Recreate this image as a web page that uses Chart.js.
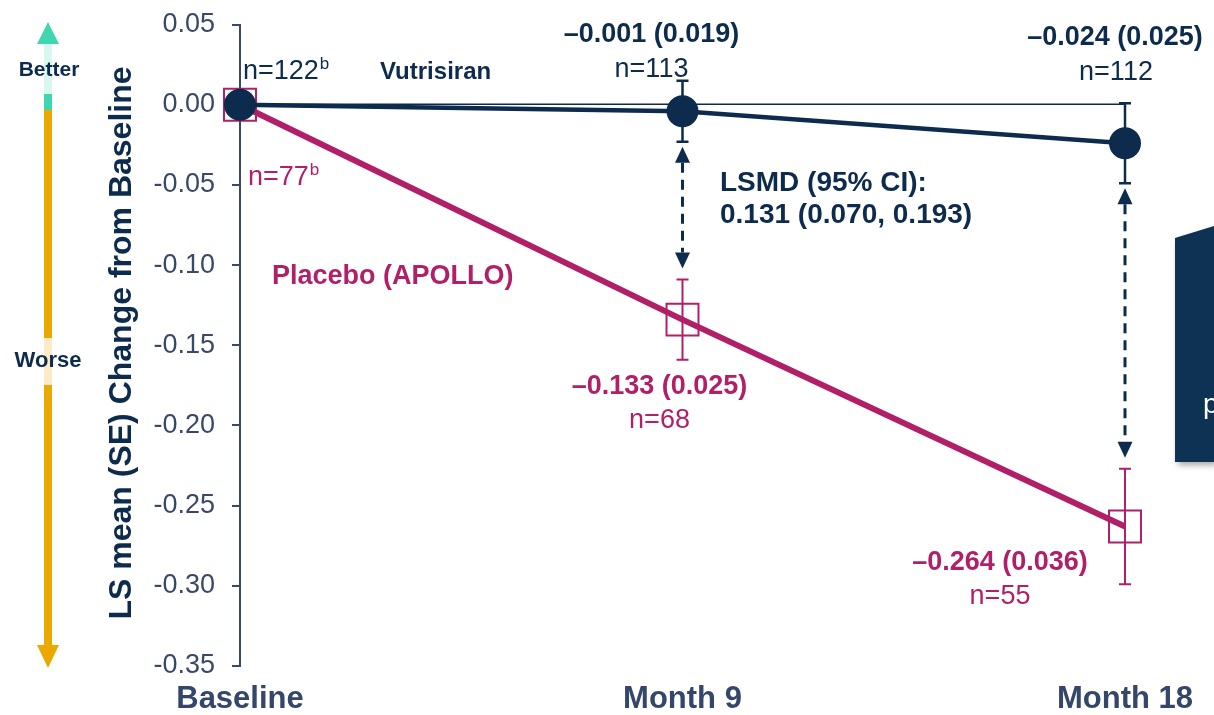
<!DOCTYPE html>
<html lang="en">
<head>
<meta charset="UTF-8">
<title>LS mean change from baseline</title>
<style>
body { margin: 0; background: #ffffff; }
#wrap { width: 1214px; height: 715px; position: relative; }
</style>
</head>
<body>
<div id="wrap"><canvas id="chart"></canvas></div>

<script src="https://cdn.jsdelivr.net/npm/chart.js"></script>
<script>
// visits on the x axis (months since baseline)
const visits = ['Baseline', 'Month 9', 'Month 18'];
const visitMonths = [0, 9, 18];

// LS mean (SE) change from baseline
const vutMean = [0, -0.004, -0.024];
const vutSE = [0, 0.019, 0.025];
const plaMean = [0, -0.134, -0.263];
const plaSE = [0, 0.025, 0.036];

// printed labels
const vutValueText = ['', '\u20130.001 (0.019)', '\u20130.024 (0.025)'];
const vutNText = ['n=122', 'n=113', 'n=112'];
const plaValueText = ['', '\u20130.133 (0.025)', '\u20130.264 (0.036)'];
const plaNText = ['n=77', 'n=68', 'n=55'];
const lsmdText = ['LSMD (95% CI):', '0.131 (0.070, 0.193)'];

const yTicks = [0.05, 0, -0.05, -0.10, -0.15, -0.20, -0.25, -0.30, -0.35];

const NAVY = '#0d2b4d';
const MAGENTA = '#b01f68';
const AXIS = '#3a4868';
const FONT = "'Liberation Sans', Arial, sans-serif";

function toPoints(means) {
    return visitMonths.map((m, i) => ({ x: m, y: means[i] }));
}

function drawSup(ctx, text, sup, x, y, size, color) {
    ctx.fillStyle = color;
    ctx.textAlign = 'left';
    ctx.textBaseline = 'middle';
    ctx.font = size + 'px ' + FONT;
    ctx.fillText(text, x, y);
    const w = ctx.measureText(text).width;
    ctx.font = Math.round(size * 0.62) + 'px ' + FONT;
    ctx.fillText(sup, x + w + 1, y - size * 0.28);
}

function text(ctx, str, x, y, font, color, align) {
    ctx.font = font;
    ctx.fillStyle = color;
    ctx.textAlign = align || 'center';
    ctx.textBaseline = 'middle';
    ctx.fillText(str, x, y);
}

const annotations = {
    id: 'annotations',
    beforeDatasetsDraw(chart) {
        const { ctx, scales: { x, y } } = chart;
        ctx.save();
        // zero reference line
        ctx.strokeStyle = NAVY;
        ctx.lineWidth = 1.5;
        ctx.beginPath();
        ctx.moveTo(x.getPixelForValue(0), y.getPixelForValue(0) - 0.5);
        ctx.lineTo(x.getPixelForValue(18), y.getPixelForValue(0) - 0.5);
        ctx.stroke();

        // error bars
        const bars = [[vutMean, vutSE, NAVY, 2.5], [plaMean, plaSE, MAGENTA, 2]];
        bars.forEach(([mean, se, color, lw]) => {
            ctx.strokeStyle = color;
            ctx.lineWidth = lw;
            visitMonths.forEach((m, i) => {
                if (!se[i]) return;
                const px = x.getPixelForValue(m);
                const top = y.getPixelForValue(mean[i] + se[i]);
                const bot = y.getPixelForValue(mean[i] - se[i]);
                ctx.beginPath();
                ctx.moveTo(px, top); ctx.lineTo(px, bot);
                ctx.moveTo(px - 6, top); ctx.lineTo(px + 6, top);
                ctx.moveTo(px - 6, bot); ctx.lineTo(px + 6, bot);
                ctx.stroke();
            });
        });

        // dashed difference arrows
        ctx.strokeStyle = NAVY;
        ctx.fillStyle = NAVY;
        [1, 2].forEach(i => {
            const px = x.getPixelForValue(visitMonths[i]);
            const top = y.getPixelForValue(vutMean[i] - vutSE[i]) + 5;
            const bot = y.getPixelForValue(plaMean[i] + plaSE[i]) - 11;
            ctx.lineWidth = 3;
            ctx.setLineDash([10, 7]);
            ctx.beginPath();
            ctx.moveTo(px, top + 16);
            ctx.lineTo(px, bot - 16);
            ctx.stroke();
            ctx.setLineDash([]);
            ctx.beginPath();
            ctx.moveTo(px, top); ctx.lineTo(px - 7.5, top + 16); ctx.lineTo(px + 7.5, top + 16); ctx.closePath();
            ctx.fill();
            ctx.beginPath();
            ctx.moveTo(px, bot); ctx.lineTo(px - 7.5, bot - 16); ctx.lineTo(px + 7.5, bot - 16); ctx.closePath();
            ctx.fill();
        });
        ctx.restore();
    },
    afterDatasetsDraw(chart) {
        const { ctx, scales: { x } } = chart;
        ctx.save();
        const bold = 'bold 27px ' + FONT;
        const reg = '27px ' + FONT;
        const p9 = x.getPixelForValue(9);
        const p18 = x.getPixelForValue(18);

        // vutrisiran labels
        drawSup(ctx, vutNText[0], 'b', 243, 72, 27, NAVY);
        text(ctx, 'Vutrisiran', 380, 72, 'bold 24px ' + FONT, NAVY, 'left');
        text(ctx, vutValueText[1], p9 - 31, 35, bold, NAVY);
        text(ctx, vutNText[1], p9 - 31, 70, reg, NAVY);
        text(ctx, vutValueText[2], p18 - 10, 38, bold, NAVY);
        text(ctx, vutNText[2], p18 - 9, 73, reg, NAVY);

        // placebo labels
        drawSup(ctx, plaNText[0], 'b', 248, 178, 27, MAGENTA);
        text(ctx, 'Placebo (APOLLO)', 272, 277, 'bold 27px ' + FONT, MAGENTA, 'left');
        text(ctx, plaValueText[1], p9 - 23, 387, bold, MAGENTA);
        text(ctx, plaNText[1], p9 - 23, 421, reg, MAGENTA);
        text(ctx, plaValueText[2], p18 - 125, 563, bold, MAGENTA);
        text(ctx, plaNText[2], p18 - 125, 597, reg, MAGENTA);

        // LSMD
        text(ctx, lsmdText[0], 720, 183, 'bold 28px ' + FONT, NAVY, 'left');
        text(ctx, lsmdText[1], 720, 215, 'bold 28px ' + FONT, NAVY, 'left');

        // better / worse arrow
        const ax = 48;
        ctx.fillStyle = '#3fd6b0';
        ctx.beginPath();
        ctx.moveTo(ax, 22); ctx.lineTo(ax - 11, 44); ctx.lineTo(ax + 11, 44); ctx.closePath();
        ctx.fill();
        ctx.fillStyle = '#d8f7ee';
        ctx.fillRect(ax - 4, 44, 8, 50);
        ctx.fillStyle = '#3fd6b0';
        ctx.fillRect(ax - 4, 94, 8, 16);
        ctx.fillStyle = '#eaa800';
        ctx.fillRect(ax - 4, 110, 8, 228);
        ctx.fillStyle = '#fcebc6';
        ctx.fillRect(ax - 4, 338, 8, 47);
        ctx.fillStyle = '#eaa800';
        ctx.fillRect(ax - 4, 385, 8, 261);
        ctx.beginPath();
        ctx.moveTo(ax, 668); ctx.lineTo(ax - 11, 645); ctx.lineTo(ax + 11, 645); ctx.closePath();
        ctx.fill();
        text(ctx, 'Better', ax + 1, 70, 'bold 21px ' + FONT, NAVY);
        text(ctx, 'Worse', ax, 361, 'bold 22px ' + FONT, NAVY);

        // y axis title
        ctx.translate(122, 343);
        ctx.rotate(-Math.PI / 2);
        text(ctx, 'LS mean (SE) Change from Baseline', 0, 0, 'bold 32px ' + FONT, NAVY);
        ctx.restore();

        // callout box cut at the right edge
        ctx.save();
        ctx.shadowColor = 'rgba(0,0,0,0.35)';
        ctx.shadowBlur = 6;
        ctx.shadowOffsetX = 3;
        ctx.shadowOffsetY = 3;
        ctx.fillStyle = '#0e3254';
        ctx.beginPath();
        ctx.moveTo(1175, 238); ctx.lineTo(1214, 226); ctx.lineTo(1214, 462); ctx.lineTo(1175, 462); ctx.closePath();
        ctx.fill();
        ctx.shadowColor = 'transparent';
        ctx.fillStyle = '#ffffff';
        ctx.font = '28px ' + FONT;
        ctx.textAlign = 'left';
        ctx.textBaseline = 'alphabetic';
        ctx.fillText('p', 1203, 413);
        ctx.restore();
    }
};

new Chart(document.getElementById('chart'), {
    type: 'line',
    data: {
        datasets: [
            {
                label: 'Vutrisiran',
                data: toPoints(vutMean),
                borderColor: NAVY,
                borderWidth: 4.5,
                backgroundColor: NAVY,
                pointStyle: 'circle',
                pointRadius: 16,
                pointBackgroundColor: NAVY,
                pointBorderWidth: 0,
                tension: 0,
                clip: false
            },
            {
                label: 'Placebo (APOLLO)',
                data: toPoints(plaMean),
                borderColor: MAGENTA,
                borderWidth: 6,
                pointStyle: 'rect',
                pointRadius: 22.6,
                pointBackgroundColor: 'rgba(0,0,0,0)',
                pointBorderColor: MAGENTA,
                pointBorderWidth: 2,
                tension: 0,
                clip: false
            }
        ]
    },
    options: {
        responsive: true,
        maintainAspectRatio: false,
        animation: false,
        layout: { padding: { left: 0, right: 89, top: 24, bottom: 0 } },
        plugins: { legend: { display: false }, tooltip: { enabled: false } },
        scales: {
            x: {
                type: 'linear',
                min: 0,
                max: 18,
                afterBuildTicks: axis => { axis.ticks = visitMonths.map(v => ({ value: v })); },
                afterFit: axis => { axis.height = 49; axis.paddingLeft = 0; axis.paddingRight = 0; },
                grid: { display: false, drawTicks: false },
                border: { display: false },
                ticks: {
                    padding: 15,
                    maxRotation: 0,
                    autoSkip: false,
                    color: '#34466a',
                    font: { family: FONT, size: 31, weight: 'bold', lineHeight: 1.2 },
                    callback: v => visits[visitMonths.indexOf(v)]
                }
            },
            y: {
                min: -0.35,
                max: 0.05,
                afterBuildTicks: axis => { axis.ticks = yTicks.map(v => ({ value: v })); },
                afterFit: axis => { axis.width = 240; axis.paddingTop = 0; axis.paddingBottom = 0; },
                grid: { display: true, drawOnChartArea: false, drawTicks: true, tickLength: 8, color: AXIS, lineWidth: 2 },
                border: { display: true, color: AXIS, width: 2 },
                ticks: {
                    padding: 17,
                    color: AXIS,
                    font: { family: FONT, size: 27 },
                    callback: v => Math.abs(v) < 1e-9 ? '0.00' : v.toFixed(2)
                }
            }
        }
    },
    plugins: [annotations]
});
</script>
</body>
</html>
